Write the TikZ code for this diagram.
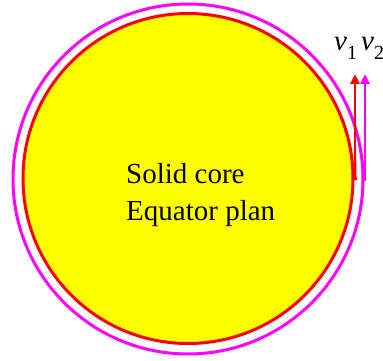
\documentclass[tikz,border=0pt]{standalone}
\usepackage{fontspec}
\setmainfont{Liberation Serif}
\usetikzlibrary{arrows.meta,positioning,calc}
\definecolor{corefill}{HTML}{FFFF00}
\definecolor{coreline}{HTML}{FF0000}
\definecolor{orbitline}{HTML}{FF00FF}
\tikzset{
  every node/.style={font=\fontsize{29}{37}\selectfont, text=black},
  core/.style={circle, draw=coreline, fill=corefill, line width=3pt, inner sep=0pt},
  orbit/.style={circle, draw=orbitline, line width=3pt, inner sep=0pt},
  vel/.style={-{Triangle[length=10pt, width=9pt]}, line width=2.5pt},
  lbl/.style={inner sep=0pt, anchor=base west},
}
\newcommand{\velsub}[1]{\textit{v}\raisebox{-0.3em}{\fontsize{20}{20}\selectfont #1}}

\begin{document}
\begin{tikzpicture}[x=1pt, y=-1pt]
  \useasboundingbox (0,0) rectangle (383,361);
  % ---- the two circles --------------------------------------------------
  \node[orbit, minimum size=350pt] (orbit) at (188,179) {};
  \node[core, minimum size=330pt] (core) at (188,178.5) {};

  % ---- text inside the core ---------------------------------------------
  \node[lbl, align=left, anchor=north west] (caption) at (126,163) {Solid core\\Equator plan};

  % ---- velocity arrows --------------------------------------------------
  \coordinate (tip1) at (355,74);
  \coordinate (tip2) at (365,74);
  \draw[vel, draw=coreline, fill=coreline] ([xshift=2pt]core.east) -- (core.east -| tip1) -- (tip1);
  \draw[vel, draw=orbitline, fill=orbitline] ([yshift=-2pt]orbit.east -| tip2) -- (tip2);
  \node[lbl] (v1) at (334,51) {\velsub{1}};
  \node[lbl] (v2) at (361,51) {\velsub{2}};
\end{tikzpicture}
\end{document}
